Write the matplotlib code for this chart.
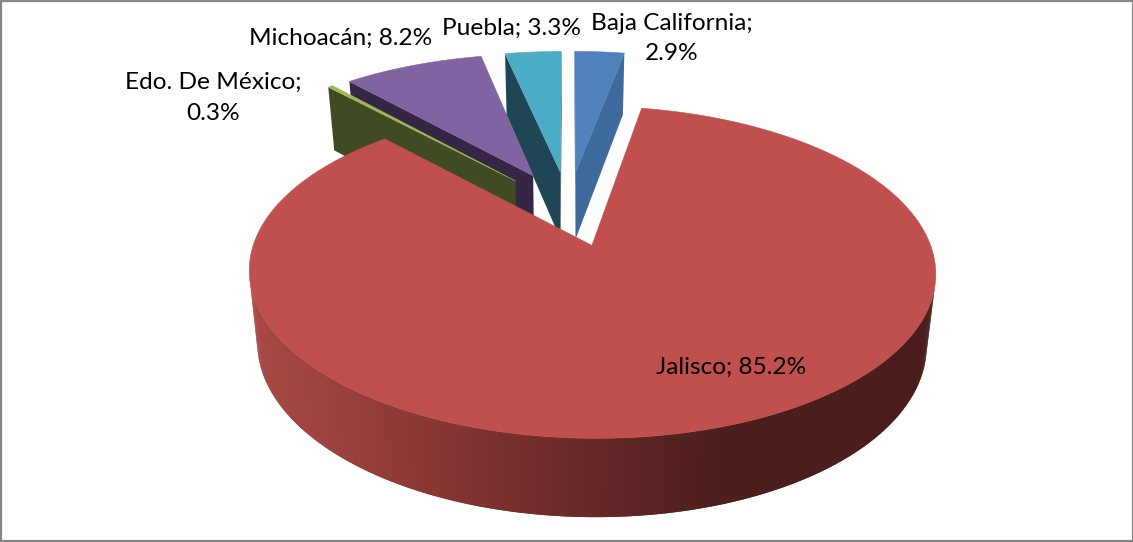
import numpy as np
import matplotlib
matplotlib.use("Agg")
import matplotlib.pyplot as plt
from matplotlib.patches import Polygon, Rectangle

# data, clockwise from 12 o'clock
states = ["Baja California", "Jalisco", "Edo. De México", "Michoacán", "Puebla"]
shares = [2.9, 85.2, 0.3, 8.2, 3.3]

# styles
top_colors = ["#4f81bd", "#c0504d", "#9bbb59", "#8064a2", "#4bacc6"]
wall_colors = ["#3e6a9c", "#4c1f1e", "#404a23", "#352646", "#1f4654"]
label_pos = [(672, 38.5), (731, 367), (213, 98), (341, 38), (512, 28)]
label_breaks = [True, False, True, False, False]

# projection of the tilted disc, in pixels
cx, cy = 568.5, 208.0
ax_x, ax_y = 326.0, 149.8
persp = 0.156
explode = 0.25
depth = 69.0
shrink = 0.975

# gradient on the round Jalisco wall, by screen x
grad_x = [250, 420, 600, 720, 936]
grad_r = [168, 140, 100, 76, 74]
grad_g = [74, 56, 39, 31, 29]
grad_b = [71, 53, 38, 30, 28]


def project(u, v):
    w = 1 + persp * v
    return cx + ax_x * u / w, cy - ax_y * v / w


def lower(x, y, v):
    # same point on the underside of the disc
    return cx + (x - cx) * shrink, y + depth / (1 + 0.1 * v)


def area(pts):
    p = np.array(pts)
    return 0.5 * np.sum(p[:, 0] * np.roll(p[:, 1], -1) - np.roll(p[:, 0], -1) * p[:, 1])


fig = plt.figure(figsize=(11.33, 5.42), dpi=100)
ax = fig.add_axes([0, 0, 1, 1])
ax.set_xlim(0, 1133)
ax.set_ylim(542, 0)
ax.axis("off")

ends = np.cumsum(shares) / sum(shares) * 2 * np.pi
starts = ends - np.array(shares) / sum(shares) * 2 * np.pi

# back slices first, Jalisco last because it sits in front
for i in [4, 3, 2, 0, 1]:
    mid = (starts[i] + ends[i]) / 2
    u0 = explode * np.sin(mid)
    v0 = explode * np.cos(mid)
    th = np.linspace(starts[i], ends[i], max(4, int(shares[i] * 6)))
    us = np.r_[u0, u0 + np.sin(th)]
    vs = np.r_[v0, v0 + np.cos(th)]
    xs, ys = project(us, vs)
    top = list(zip(xs, ys))
    bx, by = lower(xs, ys, vs)
    bot = list(zip(bx, by))
    n = len(top)
    for a in range(n):
        b = (a + 1) % n
        quad = [top[a], top[b], bot[b], bot[a]]
        # only the walls that face the viewer
        if area(quad) >= 0:
            continue
        if i == 1:
            xm = (top[a][0] + top[b][0]) / 2
            col = (np.interp(xm, grad_x, grad_r) / 255,
                   np.interp(xm, grad_x, grad_g) / 255,
                   np.interp(xm, grad_x, grad_b) / 255)
            # run under the next strip so no seams show
            c = min(b + 1, n - 1)
            quad = [top[a], top[b], top[c], bot[c], bot[b], bot[a]]
        else:
            col = wall_colors[i]
        ax.add_patch(Polygon(quad, closed=True, facecolor=col, edgecolor="none", linewidth=0))
    ax.add_patch(Polygon(top, closed=True, facecolor=top_colors[i], edgecolor=top_colors[i], linewidth=0.4))

for i in range(len(states)):
    sep = "\n" if label_breaks[i] else " "
    ax.text(label_pos[i][0], label_pos[i][1], f"{states[i]};{sep}{shares[i]:.1f}%",
            ha="center", va="center", fontsize=17.6, family="Lato", color="black",
            linespacing=1.55)

ax.add_patch(Rectangle((0.5, 0.5), 1132, 540.5, fill=False, edgecolor="#868686", linewidth=1.6))

fig.savefig("out.png", dpi=100)
plt.close()
